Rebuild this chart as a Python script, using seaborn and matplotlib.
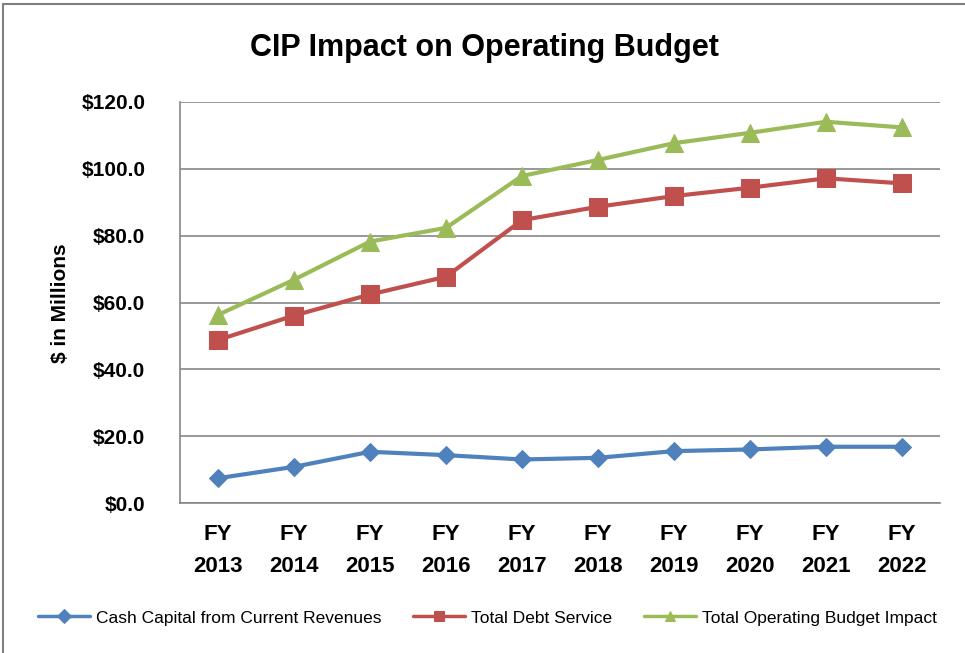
import pandas as pd
import matplotlib
matplotlib.use("Agg")
import matplotlib.pyplot as plt
from matplotlib.lines import Line2D
import seaborn as sns

# Data ($ in millions)
years = ['2013', '2014', '2015', '2016', '2017', '2018', '2019', '2020', '2021', '2022']
cash_capital = [7.5, 10.9, 15.4, 14.4, 13.1, 13.6, 15.6, 16.1, 16.9, 16.9]
debt_service = [48.8, 56.1, 62.4, 67.7, 84.6, 88.6, 91.8, 94.3, 97.1, 95.6]
total_impact = [56.3, 66.8, 78.2, 82.3, 97.8, 102.6, 107.6, 110.7, 114.0, 112.3]
series_names = ['Cash Capital from Current Revenues', 'Total Debt Service',
                'Total Operating Budget Impact']
y_ticks = [0, 20, 40, 60, 80, 100, 120]

df = pd.DataFrame({
    'Year': ['FY\n' + y for y in years],
    series_names[0]: cash_capital,
    series_names[1]: debt_service,
    series_names[2]: total_impact,
})

sns.set_style('white')
plt.rcParams['font.family'] = ['Liberation Sans Narrow', 'Liberation Sans', 'DejaVu Sans']
plt.rcParams['text.color'] = 'black'
plt.rcParams['xtick.color'] = 'black'
plt.rcParams['ytick.color'] = 'black'

fig = plt.figure(figsize=(9.65, 6.53), dpi=100)
ax = fig.add_axes([0.1865, 0.2292, 0.7876, 0.6151])

styles = [
    (series_names[0], '#4F81BD', 'D', 9),
    (series_names[1], '#C0504D', 's', 13.5),
    (series_names[2], '#9BBB59', '^', 13),
]
for name, color, marker, msize in styles:
    sns.lineplot(data=df, x='Year', y=name, ax=ax, color=color, marker=marker,
                 markersize=msize, markeredgecolor=color, linewidth=3,
                 sort=False, label=name, zorder=3)

grid_color = '#868686'
ax.set_ylim(0, 120)
ax.set_xlim(-0.5, len(years) - 0.5)
ax.set_yticks(y_ticks)
ax.set_yticklabels(['${:.1f}'.format(v) for v in y_ticks])
ax.yaxis.grid(True, color=grid_color, linewidth=1.2)
ax.set_axisbelow(True)

ax.set_xticks(range(len(years)))
ax.set_xticklabels(df['Year'], linespacing=1.7)
ax.set_xticks([i - 0.5 for i in range(len(years) + 1)], minor=True)
ax.tick_params(axis='x', which='major', length=0, pad=15, labelsize=16)
ax.tick_params(axis='x', which='minor', length=6, width=1.2, color=grid_color, direction='out')
ax.tick_params(axis='y', length=6, width=1.2, color=grid_color, direction='out', pad=19, labelsize=15)
for lab in ax.get_xticklabels() + ax.get_yticklabels():
    lab.set_fontweight('bold')
    lab.set_color('black')

for side in ['top', 'right']:
    ax.spines[side].set_visible(False)
for side in ['left', 'bottom']:
    ax.spines[side].set_color(grid_color)
    ax.spines[side].set_linewidth(1.2)

ax.set_xlabel('')
ax.set_ylabel('')
fig.text(0.063, 0.536, '$ in Millions', rotation=90, ha='center', va='center',
         fontsize=15, fontweight='bold', color='black')
fig.text(0.502, 0.926, 'CIP Impact on Operating Budget', ha='center', va='center',
         fontsize=22, fontweight='bold', color='black')

ax.get_legend().remove()
handles, labels = ax.get_legend_handles_labels()
leg = fig.legend(handles, labels, loc='center', bbox_to_anchor=(0.505, 0.0536), ncol=3,
                 frameon=False, fontsize=12.5, handlelength=3.0, handletextpad=0.35,
                 columnspacing=1.8)
for txt in leg.get_texts():
    txt.set_color('black')
for h in leg.legend_handles:
    h.set_markersize(7)
    h.set_linewidth(2.5)

# outer chart frame (top and left edges visible in the reference)
fig.add_artist(Line2D([0.003, 1.0], [0.994, 0.994], transform=fig.transFigure,
                      color='#7f7f7f', linewidth=1.5))
fig.add_artist(Line2D([0.003, 0.003], [0.0, 0.994], transform=fig.transFigure,
                      color='#7f7f7f', linewidth=1.5))

fig.savefig('out.png', dpi=100)
